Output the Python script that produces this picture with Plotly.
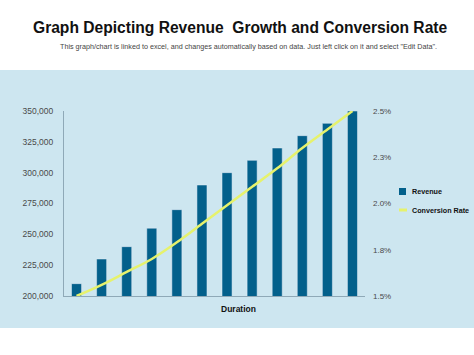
import plotly.graph_objects as go

periods = [f"P{i}" for i in range(1, 13)]
revenue = [210000, 230000, 240000, 255000, 270000, 290000, 300000, 310000, 320000, 330000, 340000, 350000]
conversion = [1.50, 1.56, 1.63, 1.70, 1.79, 1.89, 1.99, 2.09, 2.19, 2.30, 2.40, 2.50]
rev_ticks = [200000, 225000, 250000, 275000, 300000, 325000, 350000]
conv_ticks = [1.5, 1.75, 2.0, 2.25, 2.5]
conv_labels = ["1.5%", "1.8%", "2.0%", "2.3%", "2.5%"]

BAR = "#03608b"
LINE = "#e6f26c"
PANEL = "#cde6f0"
FONT = "Liberation Sans, Arial, sans-serif"

W, H = 474, 355
L, R, T, B = 64, 109, 111, 59
pw, ph = W - L - R, H - T - B

def px(x):
    return (x - L) / pw

def py(y):
    return (H - B - y) / ph

fig = go.Figure()
fig.add_trace(go.Bar(x=periods, y=revenue, name="Revenue", marker_color=BAR,
                     width=0.4, showlegend=False))
fig.add_trace(go.Scatter(x=periods, y=conversion, name="Conversion Rate", yaxis="y2",
                         mode="lines", line=dict(color=LINE, width=2.5, shape="spline"),
                         showlegend=False))

shapes = [
    dict(type="rect", xref="paper", yref="paper", x0=px(0), x1=px(W), y0=py(328), y1=py(70),
         fillcolor=PANEL, line_width=0, layer="below"),
    # legend symbols
    dict(type="rect", xref="paper", yref="paper", x0=px(399), x1=px(406), y0=py(195), y1=py(188),
         fillcolor=BAR, line_width=0),
    dict(type="line", xref="paper", yref="paper", x0=px(399), x1=px(407), y0=py(210), y1=py(210),
         line=dict(color=LINE, width=3)),
]

annotations = [
    dict(text="<b>Graph Depicting Revenue  Growth and Conversion Rate</b>", x=px(239.5), y=py(27),
         xref="paper", yref="paper", showarrow=False, xanchor="center", yanchor="middle",
         font=dict(family=FONT, size=15.6, color="#111111")),
    dict(text="This graph/chart is linked to excel, and changes automatically based on data. Just left click on it and select \"Edit Data\".",
         x=px(248), y=py(46), xref="paper", yref="paper", showarrow=False, xanchor="center",
         yanchor="middle", font=dict(family=FONT, size=7.2, color="#444444")),
    dict(text="<b>Duration</b>", x=px(238), y=py(309), xref="paper", yref="paper", showarrow=False,
         xanchor="center", yanchor="middle", font=dict(family=FONT, size=8.5, color="#111111")),
    dict(text="<b>Revenue</b>", x=px(410), y=py(191), xref="paper", yref="paper", showarrow=False,
         xanchor="left", yanchor="middle", font=dict(family=FONT, size=7.2, color="#111111")),
    dict(text="<b>Conversion Rate</b>", x=px(410), y=py(210), xref="paper", yref="paper", showarrow=False,
         xanchor="left", yanchor="middle", font=dict(family=FONT, size=7.2, color="#111111")),
]

fig.update_layout(
    width=W, height=H,
    margin=dict(l=L, r=R, t=T, b=B, pad=0),
    paper_bgcolor="white", plot_bgcolor=PANEL,
    font=dict(family=FONT),
    bargap=0.6,
    showlegend=False,
    shapes=shapes, annotations=annotations,
    xaxis=dict(showticklabels=False, showgrid=False, zeroline=False, showline=True,
               linecolor="#8fa9b7", linewidth=1, ticks=""),
    yaxis=dict(range=[200000, 350000], tickvals=rev_ticks, tickformat=",", showgrid=False,
               zeroline=False, showline=True, linecolor="#8fa9b7", linewidth=1,
               tickfont=dict(family=FONT, size=8.5, color="#4a4a4a"), ticks="", ticklabelstandoff=8),
    yaxis2=dict(range=[1.5, 2.5], overlaying="y", side="right", tickvals=conv_ticks,
                ticktext=conv_labels, showgrid=False, zeroline=False, showline=False,
                tickfont=dict(family=FONT, size=8, color="#4a4a4a"), ticks="", ticklabelstandoff=7),
)

fig.write_html("out.html", config={"displayModeBar": False},
               post_script="document.body.style.margin='0';document.body.style.overflow='hidden';")
